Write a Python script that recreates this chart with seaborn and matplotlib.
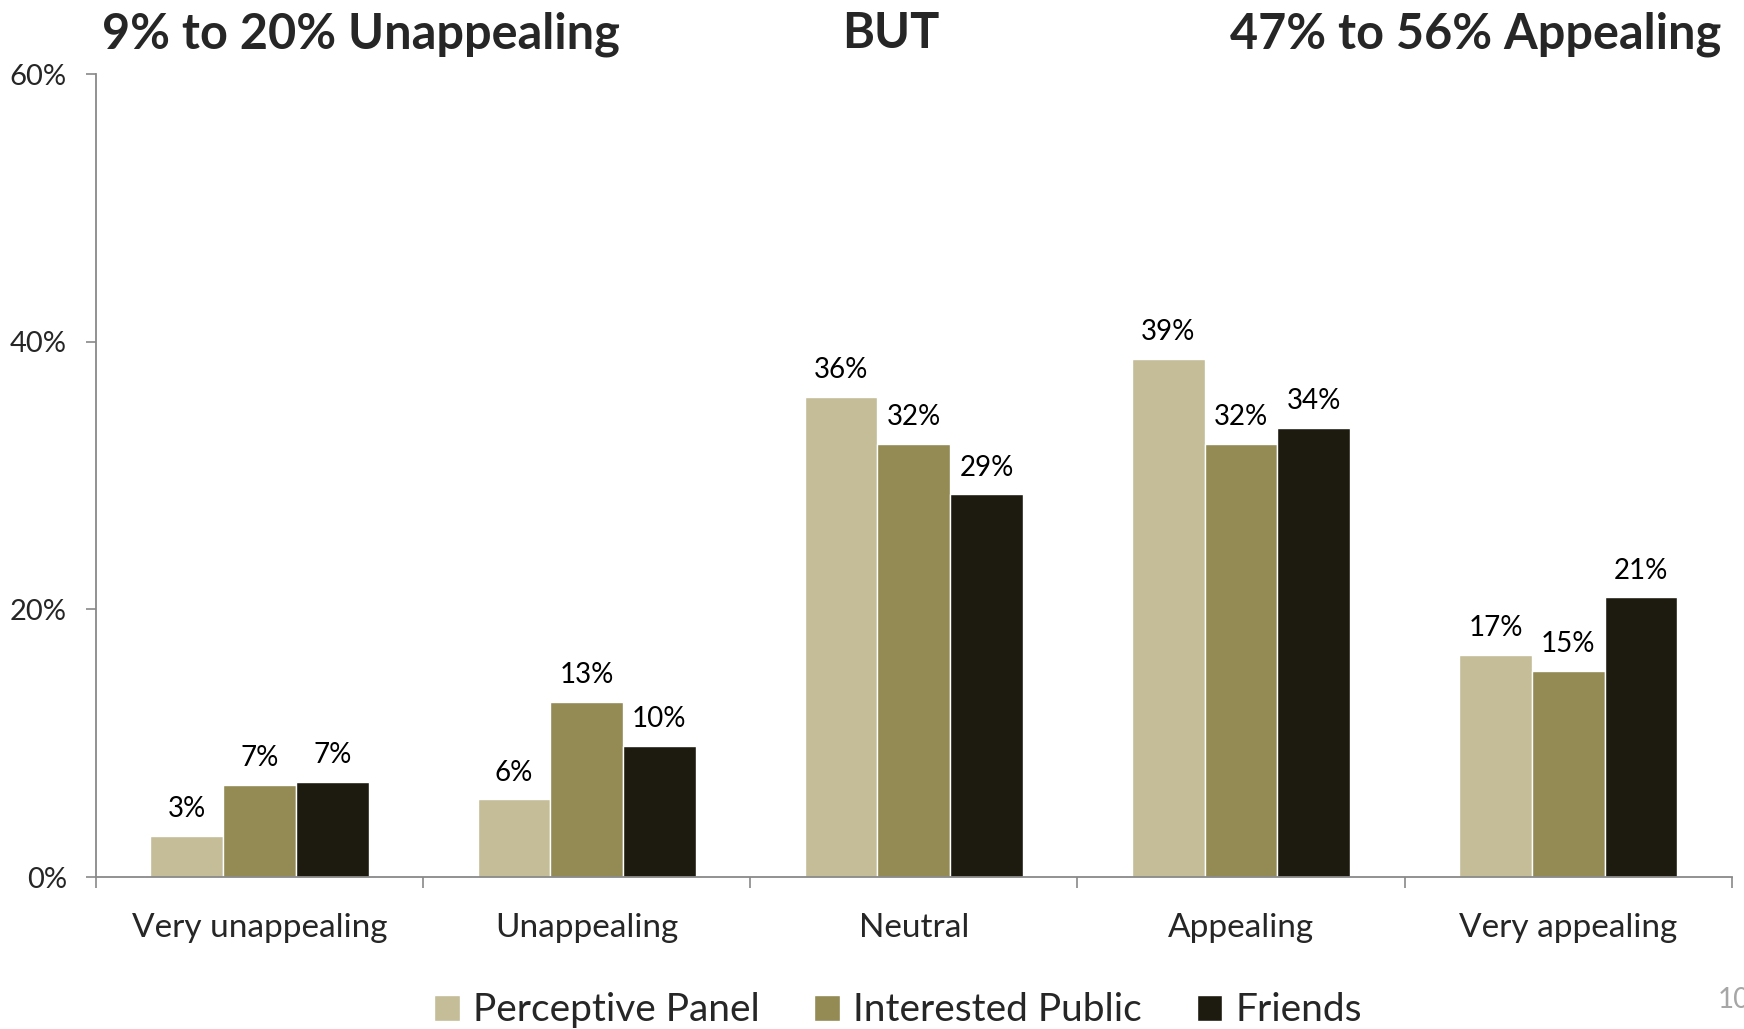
import matplotlib
matplotlib.use("Agg")
import matplotlib.pyplot as plt
import seaborn as sns
import pandas as pd

categories = ["Very unappealing", "Unappealing", "Neutral", "Appealing", "Very appealing"]
series_names = ["Perceptive Panel", "Interested Public", "Friends"]
perceptive_panel = [3.1, 5.8, 35.9, 38.7, 16.6]
interested_public = [6.9, 13.1, 32.4, 32.4, 15.4]
friends = [7.1, 9.8, 28.6, 33.6, 20.9]
y_ticks = [0, 20, 40, 60]
colors = ["#C4BD97", "#948A54", "#1D1B10"]

rows = []
for name, vals in zip(series_names, [perceptive_panel, interested_public, friends]):
    for c, v in zip(categories, vals):
        rows.append({"Category": c, "Series": name, "Value": v})
df = pd.DataFrame(rows)

sns.set_theme(style="white")
plt.rcParams['font.family'] = ['Lato', 'DejaVu Sans']

fig = plt.figure(figsize=(17.44, 10.29), dpi=100)
ax = fig.add_axes([0.055, 0.1477, 0.938, 0.78])

sns.barplot(data=df, x="Category", y="Value", hue="Series", order=categories,
            hue_order=series_names, palette=colors, width=0.667, gap=0,
            saturation=1, ax=ax, legend=True, errorbar=None)

for cont in ax.containers:
    ax.bar_label(cont, labels=[f"{b.get_height():.0f}%" for b in cont],
                 padding=10, fontsize=20, color="black")

ax.set_xlim(-0.5, 4.5)
ax.set_ylim(0, 60)
ax.set_yticks(y_ticks)
ax.set_yticklabels([f"{t}%" for t in y_ticks], fontsize=21)
ax.set_xticks([i - 0.5 for i in range(6)])
ax.set_xticklabels([""] * 6)
ax.set_xticks(range(5), minor=True)
ax.set_xticklabels(categories, minor=True, fontsize=24)
ax.tick_params(axis="x", which="major", direction="out", length=8, width=1.2, color="#898989", bottom=True)
ax.tick_params(axis="x", which="minor", length=0, pad=26)
ax.tick_params(axis="y", direction="out", length=7, width=1.2, color="#898989", left=True, pad=14)
ax.set_xlabel("")
ax.set_ylabel("")
for s in ["top", "right"]:
    ax.spines[s].set_visible(False)
for s in ["left", "bottom"]:
    ax.spines[s].set_color("#898989")
    ax.spines[s].set_linewidth(1.3)

handles, labels = ax.get_legend_handles_labels()
ax.legend_.remove()
fig.legend(handles, labels, loc="center", bbox_to_anchor=(0.515, 0.018), ncol=3,
           frameon=False, fontsize=28, handlelength=0.65, handleheight=0.65,
           handletextpad=0.35, columnspacing=1.4)

fig.text(0.207, 0.967, "9% to 20% Unappealing", ha="center", va="center", fontsize=35, fontweight="bold")
fig.text(0.511, 0.967, "BUT", ha="center", va="center", fontsize=35, fontweight="bold")
fig.text(0.987, 0.967, "47% to 56% Appealing", ha="right", va="center", fontsize=35, fontweight="bold")
fig.text(0.985, 0.028, "10", ha="left", va="center", fontsize=20, color="#A6A6A6")

fig.savefig("out.png", dpi=100)
